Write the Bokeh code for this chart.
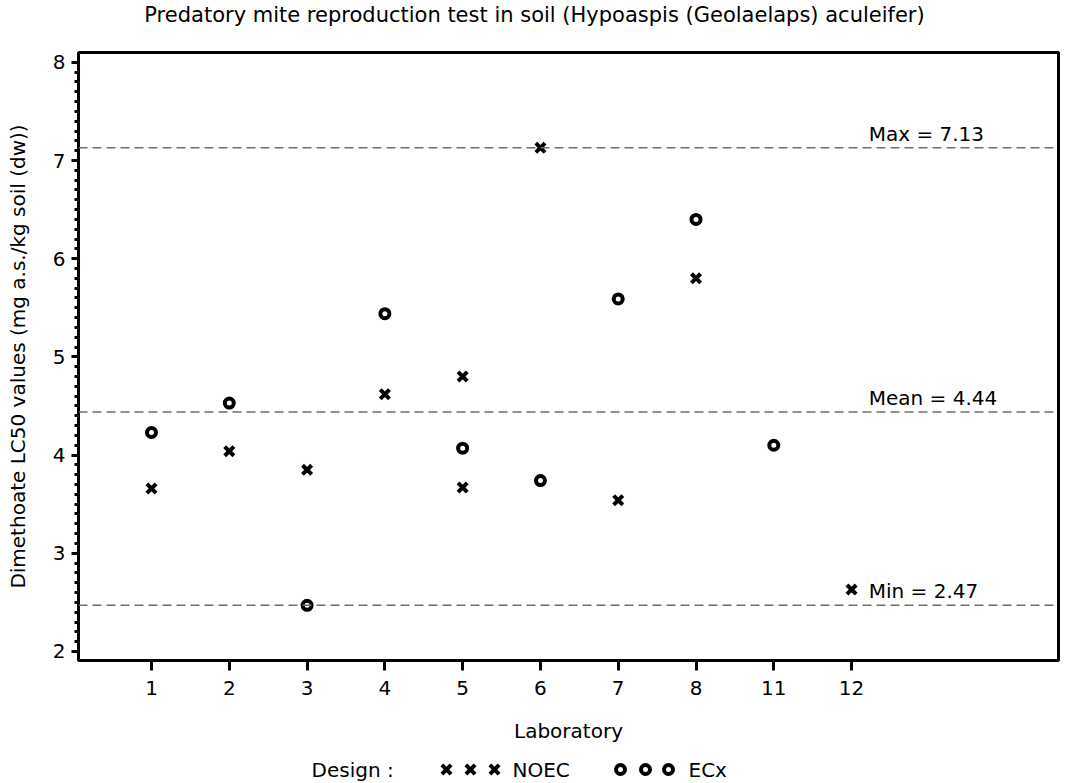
from bokeh.plotting import figure
from bokeh.layouts import column
from bokeh.models import Range1d, FixedTicker, Span, Label
from bokeh.core.properties import value
from bokeh.embed import file_html
from bokeh.resources import INLINE

FONT = "DejaVu Sans"
FS = "20px"
FS_TITLE = "21px"

labs = ["1", "2", "3", "4", "5", "6", "7", "8", "11", "12"]
noec_lab = ["1", "2", "3", "4", "5", "5", "6", "7", "8", "12"]
noec_val = [3.66, 4.04, 3.85, 4.62, 4.80, 3.67, 7.13, 3.54, 5.80, 2.63]
ecx_lab = ["1", "2", "3", "4", "5", "6", "7", "8", "11"]
ecx_val = [4.23, 4.53, 2.47, 5.44, 4.07, 3.74, 5.59, 6.40, 4.10]
ref_names = ["Max", "Mean", "Min"]
ref_vals = [7.13, 4.44, 2.47]
y_ticks = [2, 3, 4, 5, 6, 7, 8]

title_text = "Predatory mite reproduction test in soil (Hypoaspis (Geolaelaps) aculeifer)"
y_title = "Dimethoate LC50 values (mg a.s./kg soil (dw))"
x_title = "Laboratory"
legend_title = "Design :"
series_names = ["NOEC", "ECx"]

pos = {lab: i + 1 for i, lab in enumerate(labs)}
noec_x = [pos[l] for l in noec_lab]
ecx_x = [pos[l] for l in ecx_lab]

W = 1068
TOP_H = 40
LEG_H = 33
MAIN_H = 783 - TOP_H - LEG_H
FRAME_L, FRAME_R = 78, 1058

X_STYLE = dict(marker="x", size=13, line_width=4, line_color="black")
O_STYLE = dict(marker="circle", size=9, line_width=4, line_color="black", fill_color="white")


def blank(h):
    f = figure(width=W, height=h, output_backend="svg", toolbar_location=None,
               x_range=Range1d(FRAME_L, FRAME_R), y_range=Range1d(0, h),
               x_axis_location=None, y_axis_location=None,
               min_border=0, min_border_left=FRAME_L, min_border_right=W - FRAME_R,
               min_border_top=0, min_border_bottom=0)
    f.grid.visible = False
    f.outline_line_color = None
    f.background_fill_color = "white"
    f.border_fill_color = "white"
    return f


# ---- title strip
t = blank(TOP_H)
t.text(x=[534], y=[TOP_H - 14], text=[title_text], text_font=value(FONT),
       text_font_size=FS_TITLE, text_align="center", text_baseline="middle", text_color="black")

# ---- main plot
p = figure(width=W, height=MAIN_H, output_backend="svg", toolbar_location=None,
           x_range=Range1d(0.0615, 12.66), y_range=Range1d(1.908, 8.10),
           min_border_left=FRAME_L, min_border_right=W - FRAME_R, min_border_top=52 - TOP_H,
           min_border_bottom=(783 - LEG_H) - 660)
p.grid.visible = False
p.background_fill_color = "white"
p.border_fill_color = "white"
p.outline_line_color = "black"
p.outline_line_width = 3

ya = p.yaxis[0]
ya.ticker = FixedTicker(ticks=y_ticks, minor_ticks=[round(2 + 0.1 * i, 1) for i in range(61)])
ya.axis_line_color = None
ya.major_tick_in = 0
ya.major_tick_out = 7
ya.minor_tick_in = 0
ya.minor_tick_out = 4
ya.major_tick_line_width = 3
ya.minor_tick_line_width = 3
ya.major_label_text_font = FONT
ya.major_label_text_font_size = FS
ya.major_label_text_color = "black"
ya.major_label_standoff = 6
ya.axis_label = y_title
ya.axis_label_text_font = FONT
ya.axis_label_text_font_size = FS
ya.axis_label_text_font_style = "normal"
ya.axis_label_text_color = "black"
ya.axis_label_standoff = 20

xa = p.xaxis[0]
xa.ticker = FixedTicker(ticks=[pos[l] for l in labs], minor_ticks=[])
xa.major_label_overrides = {pos[l]: l for l in labs}
xa.axis_line_color = None
xa.major_tick_in = 0
xa.major_tick_out = 10
xa.major_tick_line_width = 3
xa.minor_tick_out = 0
xa.major_label_text_font = FONT
xa.major_label_text_font_size = FS
xa.major_label_text_color = "black"
xa.major_label_standoff = 10
xa.axis_label = x_title
xa.axis_label_text_font = FONT
xa.axis_label_text_font_size = FS
xa.axis_label_text_font_style = "normal"
xa.axis_label_text_color = "black"
xa.axis_label_standoff = 21

for name, v in zip(ref_names, ref_vals):
    p.add_layout(Span(location=v, dimension="width", line_color="#6e6e6e",
                      line_width=1.5, line_dash="9 5"))
    p.add_layout(Label(x=10.22, y=v, text=f"{name} = {v:.2f}", text_font=FONT,
                       text_font_size=FS, text_baseline="bottom", y_offset=2,
                       text_color="black"))

p.scatter(noec_x, noec_val, **X_STYLE)
p.scatter(ecx_x, ecx_val, **O_STYLE)

# ---- legend strip
lg = blank(LEG_H)
cy = LEG_H - (769 - (783 - LEG_H))
lg.text(x=[311], y=[cy], text=[legend_title], text_font=value(FONT), text_font_size=FS,
        text_baseline="middle", text_color="black")
lg.scatter(x=[446, 470, 494], y=[cy] * 3, **X_STYLE)
lg.text(x=[512], y=[cy], text=[series_names[0]], text_font=value(FONT), text_font_size=FS,
        text_baseline="middle", text_color="black")
lg.scatter(x=[620, 645, 668], y=[cy] * 3, **O_STYLE)
lg.text(x=[688], y=[cy], text=[series_names[1]], text_font=value(FONT), text_font_size=FS,
        text_baseline="middle", text_color="black")

layout = column(t, p, lg, spacing=0)
open("out.html", "w").write(file_html(layout, INLINE))
